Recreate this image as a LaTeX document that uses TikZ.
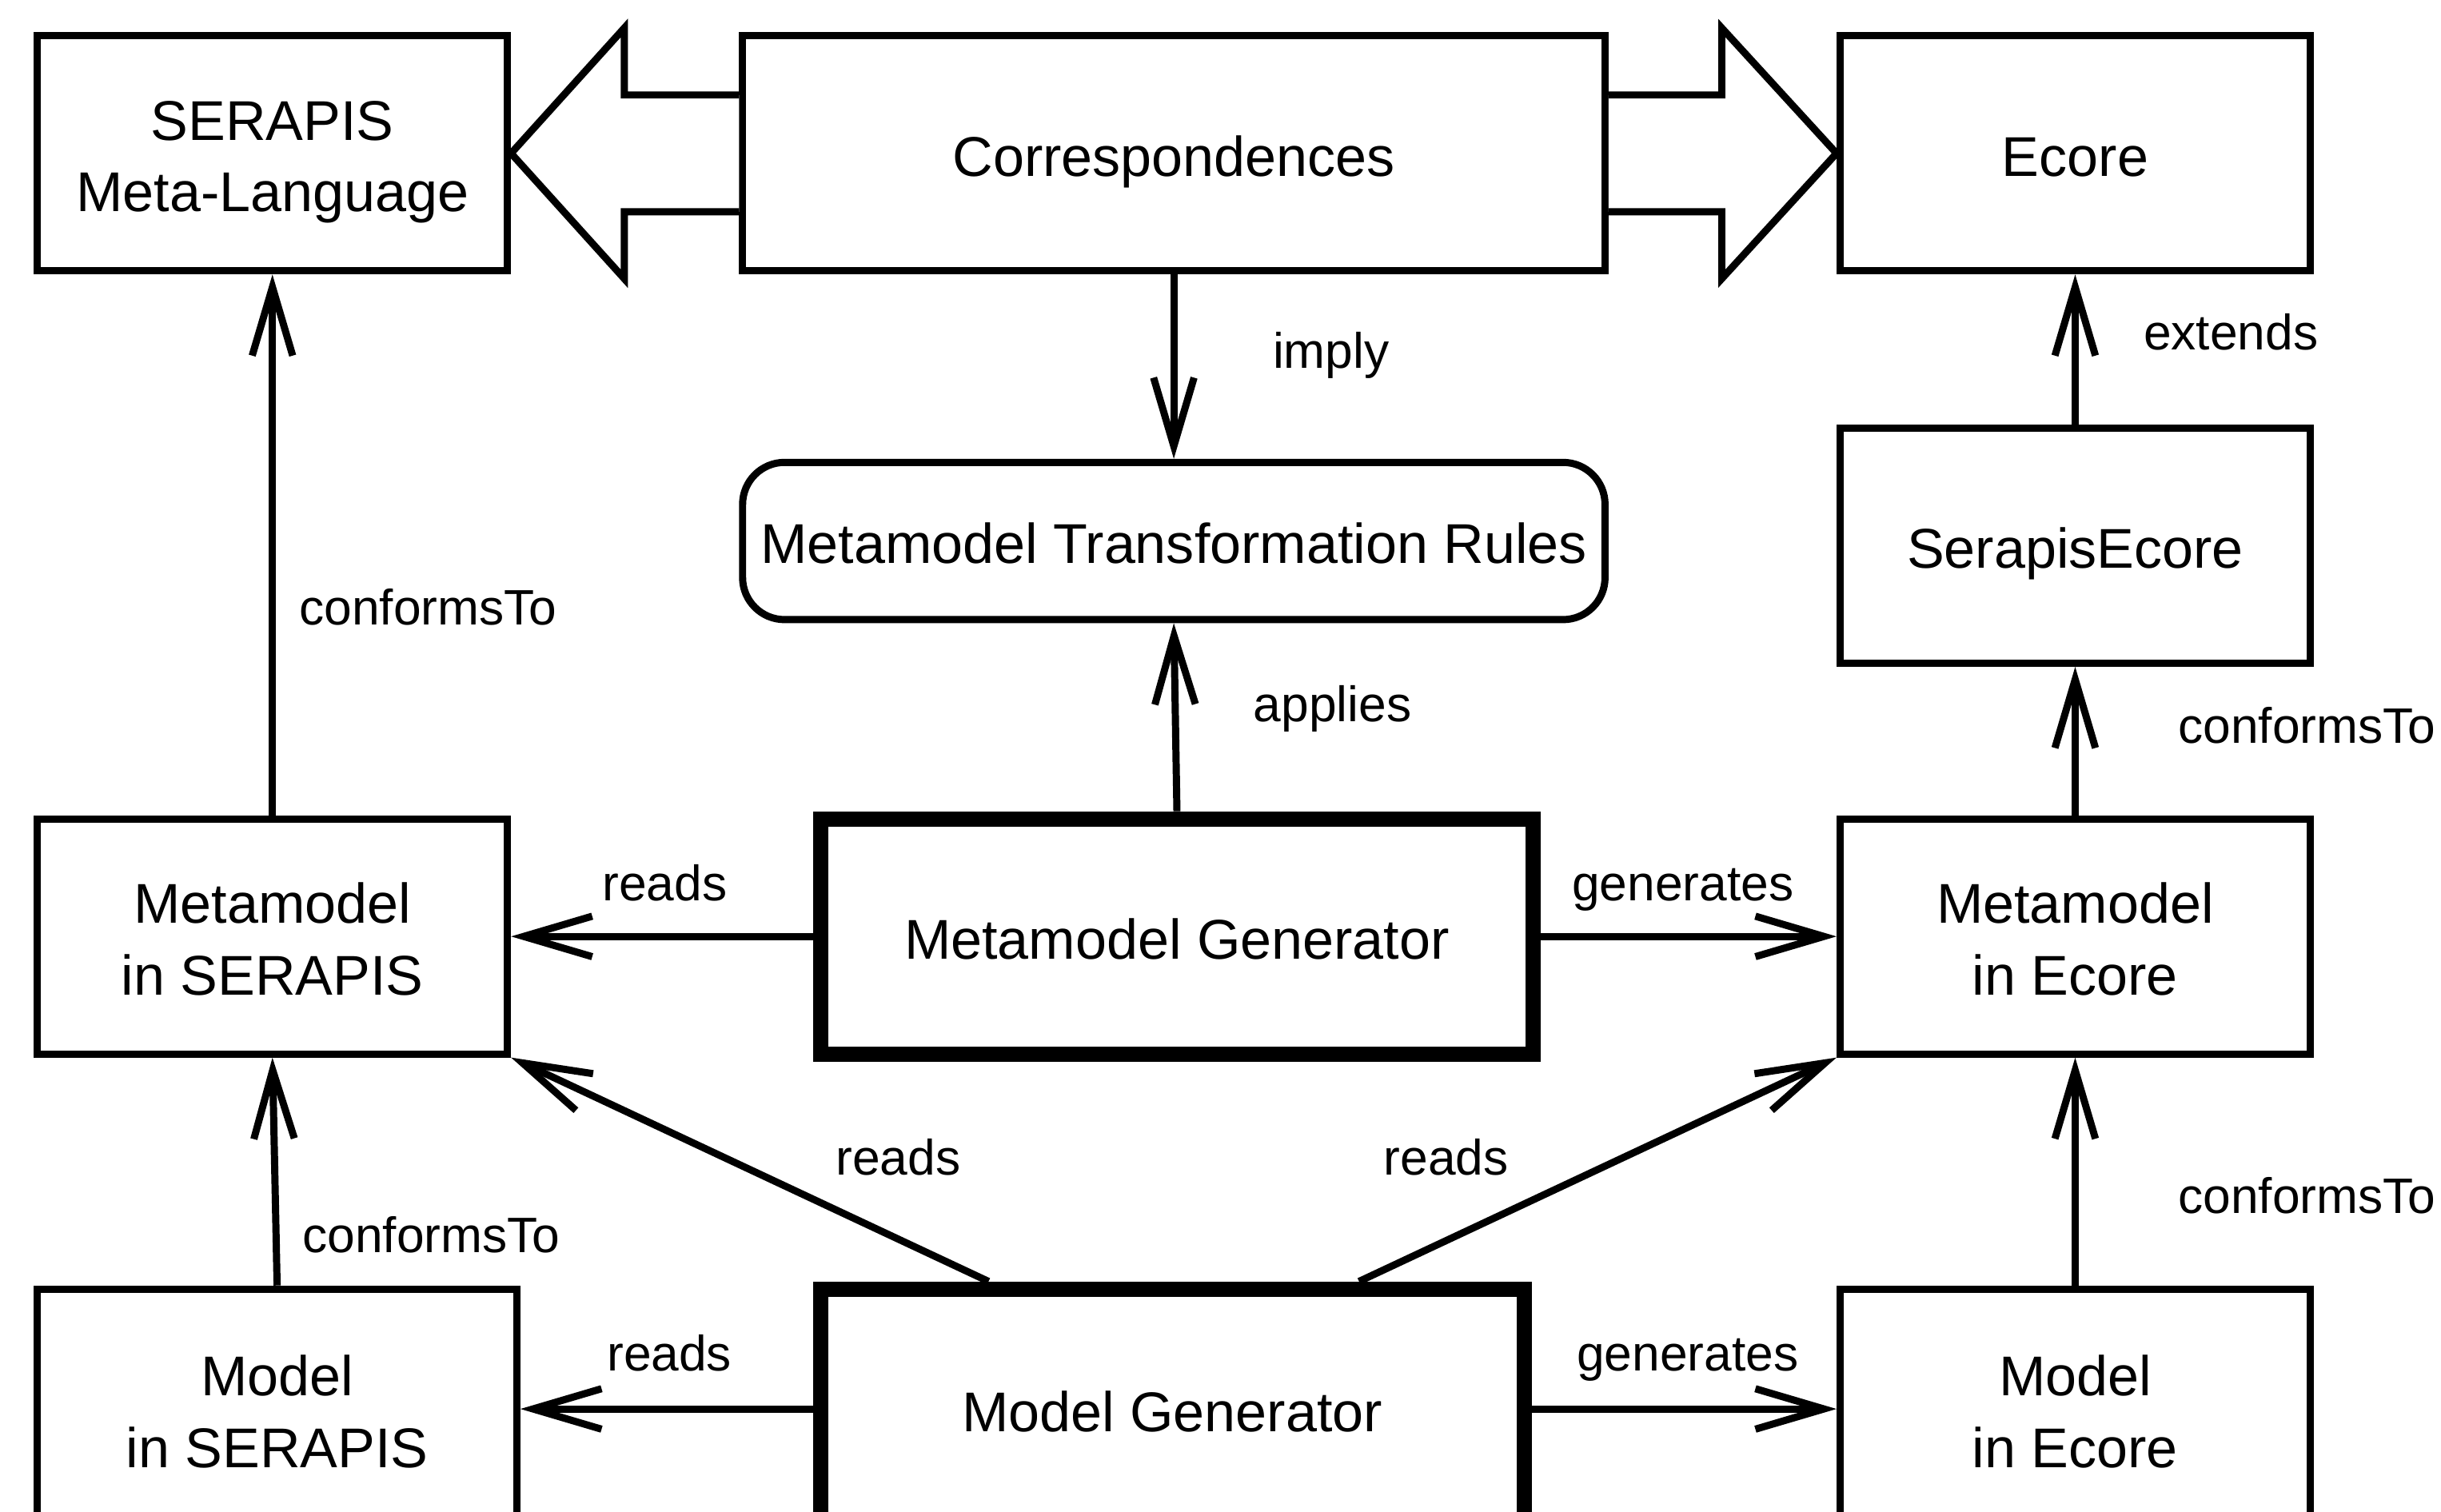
\documentclass[tikz,border=0pt]{standalone}
\usepackage{fontspec}
\setmainfont{Liberation Sans}
\usetikzlibrary{arrows.meta,calc}
\begin{document}
\begin{tikzpicture}[x=1pt,y=-1pt,
  box/.style={draw, line width=4.6pt, fill=white, inner sep=0pt, align=center,
    minimum width=302pt, minimum height=151pt, font=\fontsize{36}{46}\selectfont,
    text height=29pt, text depth=0pt},
  twoline/.style={text height=75pt, text depth=0pt},
  thickbox/.style={box, line width=9.8pt},
  lbl/.style={inner sep=0pt, font=\fontsize{32}{38}\selectfont, text height=23pt, text depth=0pt},
  conn/.style={line width=4.6pt, -{Straight Barb[length=44pt,width=26pt]}},
  bigarrow/.style={draw, line width=4.6pt, fill=white, line join=miter}]
\useasboundingbox (0,0) rectangle (1568,971);
\fill[white] (0,0) rectangle (1568,971);
\clip (0,0) rectangle (1568,971);

% nodes
\node[box, twoline] (ml) at (175,98.5) {SERAPIS\\Meta-Language};
\node[box, minimum width=554pt] (corr) at (754,98.5) {Correspondences};
\node[box] (ecore) at (1333,98.5) {Ecore};
\node[box, minimum width=554pt, minimum height=101pt, rounded corners=27pt] (mtr) at (754,347.5) {Metamodel Transformation Rules};
\node[box] (se) at (1333,350.5) {SerapisEcore};
\node[box, twoline] (mms) at (175,601.5) {Metamodel\\in SERAPIS};
\node[thickbox, minimum width=458pt] (mmg) at (756,601.5) {Metamodel Generator};
\node[box, twoline] (mme) at (1333,601.5) {Metamodel\\in Ecore};
\node[box, twoline, minimum width=308pt, minimum height=154pt] (ms) at (178,905) {Model\\in SERAPIS};
\node[thickbox, minimum width=452pt, minimum height=154pt] (mg) at (753,905) {Model Generator};
\node[box, twoline, minimum height=154pt] (me) at (1333,905) {Model\\in Ecore};

% big hollow arrows
\path[bigarrow] (corr.west |- 0,61) -- (401,61) -- (401,18) -- (ml.east) -- (401,179) -- (401,136) -- (corr.west |- 0,136);
\path[bigarrow] (corr.east |- 0,61) -- (1106,61) -- (1106,18) -- (ecore.west) -- (1106,179) -- (1106,136) -- (corr.east |- 0,136);

% connectors
\draw[conn] (mms.north) -- (ml.south);
\draw[conn] (ms.north) -- (mms.south);
\draw[conn] (corr.south) -- (mtr.north);
\draw[conn] (mmg.north) -- (mtr.south);
\draw[conn] (mmg.west) -- (mms.east);
\draw[conn] (mmg.east) -- (mme.west);
\draw[conn] (se.north) -- (ecore.south);
\draw[conn] (mme.north) -- (se.south);
\draw[conn] (me.north) -- (mme.south);
\coordinate (mgl) at ($(mg.north)+(-118,0)$);
\coordinate (mgr) at ($(mg.north)+(120,0)$);
\draw[conn] (mgl) -- (mms.south east);
\draw[conn] (mgr) -- (mme.south west);
\draw[conn] (mg.west) -- (ms.east);
\draw[conn] (mg.east) -- (me.west);

% labels
\node[lbl] (l1) at (275,390) {conformsTo};
\node[lbl] (l2) at (277,793) {conformsTo};
\node[lbl] (l3) at (855,225) {imply};
\node[lbl] (l4) at (856,452) {applies};
\node[lbl] (l5) at (427,567) {reads};
\node[lbl] (l6) at (1081,567) {generates};
\node[lbl] (l7) at (1433,213) {extends};
\node[lbl, anchor=west] (l8) at (1399,466) {conformsTo};
\node[lbl, anchor=west] (l9) at (1399,768) {conformsTo};
\node[lbl] (l10) at (577,743) {reads};
\node[lbl] (l11) at (929,743) {reads};
\node[lbl] (l12) at (430,869) {reads};
\node[lbl] (l13) at (1084,869) {generates};
\end{tikzpicture}
\end{document}
